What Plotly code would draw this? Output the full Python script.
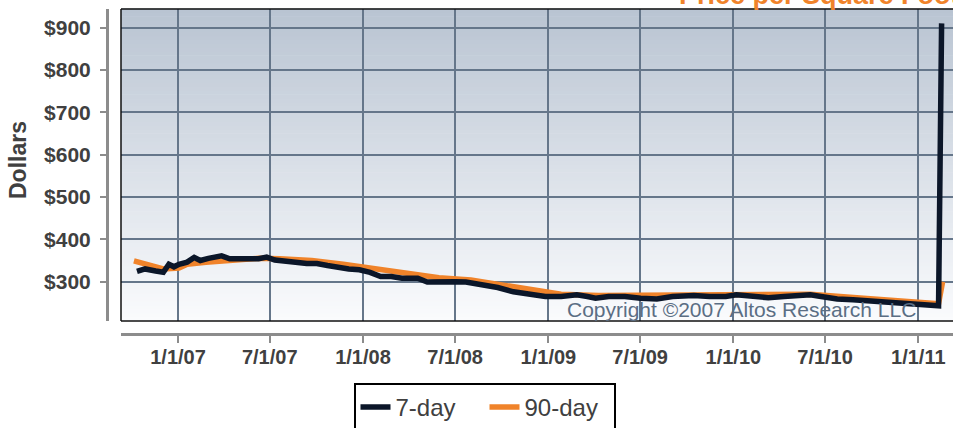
import plotly.graph_objects as go

# ---------------- data ----------------
seven_day_dates = ["2006-10-12","2006-10-28","2006-11-18","2006-12-03","2006-12-14","2006-12-24",
    "2007-01-03","2007-01-19","2007-02-02","2007-02-14","2007-03-02","2007-03-18","2007-03-28","2007-04-13",
    "2007-04-28","2007-05-19","2007-06-09","2007-06-25","2007-07-11","2007-08-01","2007-08-21","2007-09-12",
    "2007-10-02","2007-10-23","2007-11-13","2007-12-04","2007-12-25",
    "2008-01-15","2008-02-05","2008-02-26","2008-03-18","2008-04-18","2008-05-07","2008-05-30","2008-07-01",
    "2008-07-22","2008-08-22","2008-09-23","2008-10-24","2008-11-24","2008-12-26",
    "2009-01-26","2009-02-26","2009-03-19","2009-04-04","2009-04-30","2009-06-01","2009-07-02","2009-08-03",
    "2009-09-03","2009-10-15","2009-11-15","2009-12-17",
    "2010-01-07","2010-02-07","2010-03-11","2010-04-11","2010-05-02","2010-06-02","2010-06-23","2010-07-25",
    "2010-08-25","2010-09-25","2010-10-27","2010-11-27","2010-12-29",
    "2011-01-29","2011-02-10","2011-02-16"]
seven_day_values = [324,330,325,322,341,335,
    341,346,357,350,355,357,361,354,355,354,354,358,351,347,346,343,343,338,333,330,328,
    322,312,312,308,308,299,300,300,299,294,286,276,270,265,
    265,269,265,261,265,265,261,259,265,267,265,265,
    269,265,262,265,267,269,265,259,257,254,251,249,247,
    245,243,910]

ninety_day_dates = ["2006-10-06","2006-11-01","2006-12-03","2007-01-03","2007-01-19","2007-02-25",
    "2007-04-07","2007-06-09","2007-07-21","2007-09-22","2007-11-23","2008-01-26","2008-03-29",
    "2008-05-30","2008-08-01","2008-10-03","2008-12-05","2009-01-26","2009-04-10","2009-07-23",
    "2009-11-05","2010-02-18","2010-06-02","2010-09-15","2010-12-29","2011-02-10","2011-02-18"]
ninety_day_values = [349,341,330,332,341,346,350,355,354,350,341,330,317,309,304,291,278,270,267,267,
    269,269,270,261,251,248,300]

x_tick_vals = ["2007-01-01","2007-07-01","2008-01-01","2008-07-01","2009-01-01",
               "2009-07-01","2010-01-01","2010-07-01","2011-01-01"]
x_tick_text = ["1/1/07","7/1/07","1/1/08","7/1/08","1/1/09","7/1/09","1/1/10","7/1/10","1/1/11"]
y_tick_vals = [300, 400, 500, 600, 700, 800, 900]
y_tick_text = ["$300", "$400", "$500", "$600", "$700", "$800", "$900"]

x_range = ["2006-09-10 12:00", "2011-03-10 12:00"]
y_range = [207, 944]

# ---------------- style ----------------
FONT = "Liberation Sans, Arial, sans-serif"
BLACK_LINE = "#0b1629"
ORANGE = "#f0832a"
AXIS_GRAY = "#8c8c8c"
GRID = "#65768a"
TXT = "#404040"

fig = go.Figure()
fig.add_trace(go.Scatter(x=ninety_day_dates, y=ninety_day_values, mode="lines", name="90-day",
                         line=dict(color=ORANGE, width=5.5), legendrank=2))
fig.add_trace(go.Scatter(x=seven_day_dates, y=seven_day_values, mode="lines", name="7-day",
                         line=dict(color=BLACK_LINE, width=5.5), legendrank=1))

# background gradient strips
shapes = []
N = 80
top = (185, 196, 210)
bot = (250, 251, 253)
for i in range(N):
    f = (i + 0.5) / N  # 0 bottom -> 1 top
    c = tuple(round(bot[k] + (top[k] - bot[k]) * f) for k in range(3))
    shapes.append(dict(type="rect", xref="x domain", yref="y domain", x0=0, x1=1,
                       y0=i / N, y1=(i + 1) / N + 0.002, layer="below",
                       fillcolor="rgb(%d,%d,%d)" % c, line=dict(width=0)))
# plot frame (top, left, bottom)
for (x0, y0, x1, y1) in [(0, 1, 1.02, 1), (0, 0, 0, 1), (0, 0, 1.02, 0)]:
    shapes.append(dict(type="line", xref="x domain", yref="y domain", x0=x0, y0=y0, x1=x1, y1=y1,
                       line=dict(color="#111111", width=1.5), layer="above"))

W, H = 953, 428
ML, MR, MT, MB = 107, 0, 9, 94
PW, PH = W - ML - MR, H - MT - MB

def px_x(p):
    return (p - ML) / PW

def px_y(p):
    return (H - MB - p) / PH

fig.update_layout(
    width=W, height=H,
    margin=dict(l=ML, r=MR, t=MT, b=MB, pad=0, autoexpand=False),
    paper_bgcolor="white", plot_bgcolor="rgba(0,0,0,0)",
    shapes=shapes,
    showlegend=True,
    legend=dict(orientation="h", x=px_x(484.5), xanchor="center", y=px_y(383), yanchor="top",
                bordercolor="#000000", borderwidth=2, bgcolor="white", entrywidth=84,
                font=dict(family=FONT, size=24, color=TXT), traceorder="normal"),
    xaxis=dict(type="date", range=x_range, domain=[px_x(121), 1], anchor="free", position=0,
               showline=True, linecolor=AXIS_GRAY, linewidth=3,
               ticks="outside", ticklen=7, tickwidth=2, tickcolor=AXIS_GRAY,
               tickvals=x_tick_vals, ticktext=x_tick_text, ticklabelstandoff=-3,
               tickfont=dict(family=FONT, size=20, color=TXT, weight="bold"),
               showgrid=True, gridcolor=GRID, gridwidth=1.5, zeroline=False, automargin=False),
    yaxis=dict(range=y_range, domain=[px_y(321), 1], anchor="free", position=0,
               showline=True, linecolor=AXIS_GRAY, linewidth=3,
               ticks="outside", ticklen=6, tickwidth=2, tickcolor=AXIS_GRAY,
               tickvals=y_tick_vals, ticktext=y_tick_text, ticklabelstandoff=5,
               tickfont=dict(family=FONT, size=21, color=TXT, weight="bold"),
               showgrid=True, gridcolor=GRID, gridwidth=1.5, zeroline=False, automargin=False),
    annotations=[
        dict(text="Dollars", textangle=-90, xref="paper", yref="paper",
             x=px_x(18), y=px_y(160), xanchor="center", yanchor="middle", showarrow=False,
             font=dict(family=FONT, size=23, color=TXT, weight="bold")),
        dict(text="Copyright ©2007 Altos Research LLC", xref="paper", yref="paper",
             x=px_x(918), y=px_y(309), xanchor="right", yanchor="middle", showarrow=False,
             font=dict(family=FONT, size=21, color="#5b6e84")),
        dict(text="Price per Square Foot", xref="paper", yref="paper",
             x=px_x(677), y=px_y(12), xanchor="left", yanchor="bottom", showarrow=False,
             font=dict(family=FONT, size=27, color=ORANGE, weight="bold")),
    ],
)

fig.write_html("out.html", config={"displayModeBar": False},
               post_script="document.body.style.margin='0';document.body.style.overflow='hidden';")
